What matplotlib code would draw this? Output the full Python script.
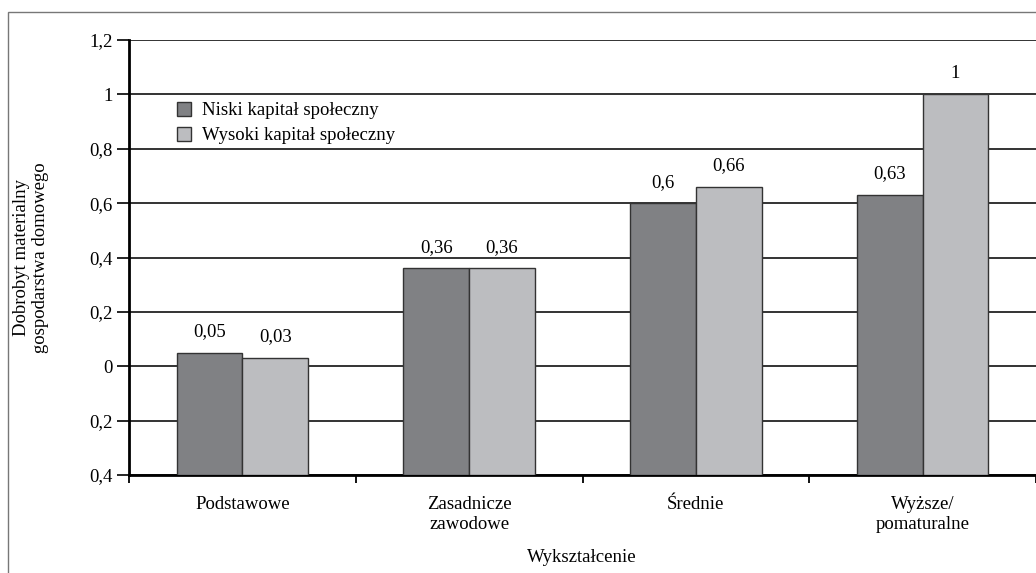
import matplotlib
matplotlib.use("Agg")
import matplotlib.pyplot as plt
import numpy as np
from matplotlib.patches import Rectangle

# Data: material welfare by education and social capital
categories = ['Podstawowe', 'Zasadnicze\nzawodowe', 'Średnie', 'Wyższe/\npomaturalne']
low_capital = [0.05, 0.36, 0.6, 0.63]
high_capital = [0.03, 0.36, 0.66, 1.0]
low_labels = ['0,05', '0,36', '0,6', '0,63']
high_labels = ['0,03', '0,36', '0,66', '1']
series_names = ['Niski kapitał społeczny', 'Wysoki kapitał społeczny']
y_ticks = [-0.4, -0.2, 0, 0.2, 0.4, 0.6, 0.8, 1.0, 1.2]
y_tick_labels = ['0,4', '0,2', '0', '0,2', '0,4', '0,6', '0,8', '1', '1,2']

plt.rcParams['font.family'] = ['Liberation Serif', 'DejaVu Serif']
plt.rcParams['font.size'] = 13.5

fig = plt.figure(figsize=(10.36, 5.73), dpi=100)
ax = fig.add_axes([129 / 1036, 1 - 475 / 573, 1 - 129 / 1036, (475 - 40) / 573])

# thin frame around the figure (cut off at right and bottom)
fig.patches.append(Rectangle((8 / 1036, -0.2), 1.2, 1.2 - 12 / 573,
                             transform=fig.transFigure, fill=False,
                             edgecolor='#777777', linewidth=1.0))

x = np.arange(len(categories))
w = 0.29
bottom = -0.4
ax.bar(x - w / 2, np.array(low_capital) - bottom, w, bottom=bottom,
       color='#808184', edgecolor='#333333', linewidth=1.0, zorder=3,
       label=series_names[0])
ax.bar(x + w / 2, np.array(high_capital) - bottom, w, bottom=bottom,
       color='#bcbdc0', edgecolor='#333333', linewidth=1.0, zorder=3,
       label=series_names[1])

for xi, v, s in zip(x - w / 2, low_capital, low_labels):
    ax.annotate(s, (xi, v), xytext=(0, 9), textcoords='offset points',
                ha='center', va='bottom')
for xi, v, s in zip(x + w / 2, high_capital, high_labels):
    ax.annotate(s, (xi, v), xytext=(0, 9), textcoords='offset points',
                ha='center', va='bottom')

ax.set_xlim(-0.5, len(categories) - 0.5)
ax.set_ylim(-0.4, 1.2)
ax.set_yticks(y_ticks)
ax.set_yticklabels(y_tick_labels)
ax.yaxis.grid(True, color='#111111', linewidth=1.2, zorder=0)
ax.set_axisbelow(True)

ax.set_xticks(x)
ax.set_xticklabels(categories, linespacing=1.25)
ax.set_xticks(np.arange(-0.5, len(categories)), minor=True)
ax.tick_params(axis='x', which='major', length=0, pad=15)
ax.tick_params(axis='x', which='minor', length=6, width=1.3, direction='out')
ax.tick_params(axis='y', length=9, width=1.2, direction='out', pad=3)

for side in ['top', 'right']:
    ax.spines[side].set_visible(False)
ax.spines['left'].set_linewidth(2.0)
ax.spines['bottom'].set_linewidth(2.0)

ax.legend(loc='upper left', bbox_to_anchor=(0.045, 0.875),
          frameon=False, handlelength=0.75, handleheight=0.75,
          handletextpad=0.55, labelspacing=0.4, borderaxespad=0)

fig.text(31 / 1036, 1 - 258 / 573, 'Dobrobyt materialny\ngospodarstwa domowego',
         rotation=90, ha='center', va='center', linespacing=1.1)
fig.text(582 / 1036, 1 - 557 / 573, 'Wykształcenie', ha='center', va='center')

fig.savefig('out.png', dpi=100)
